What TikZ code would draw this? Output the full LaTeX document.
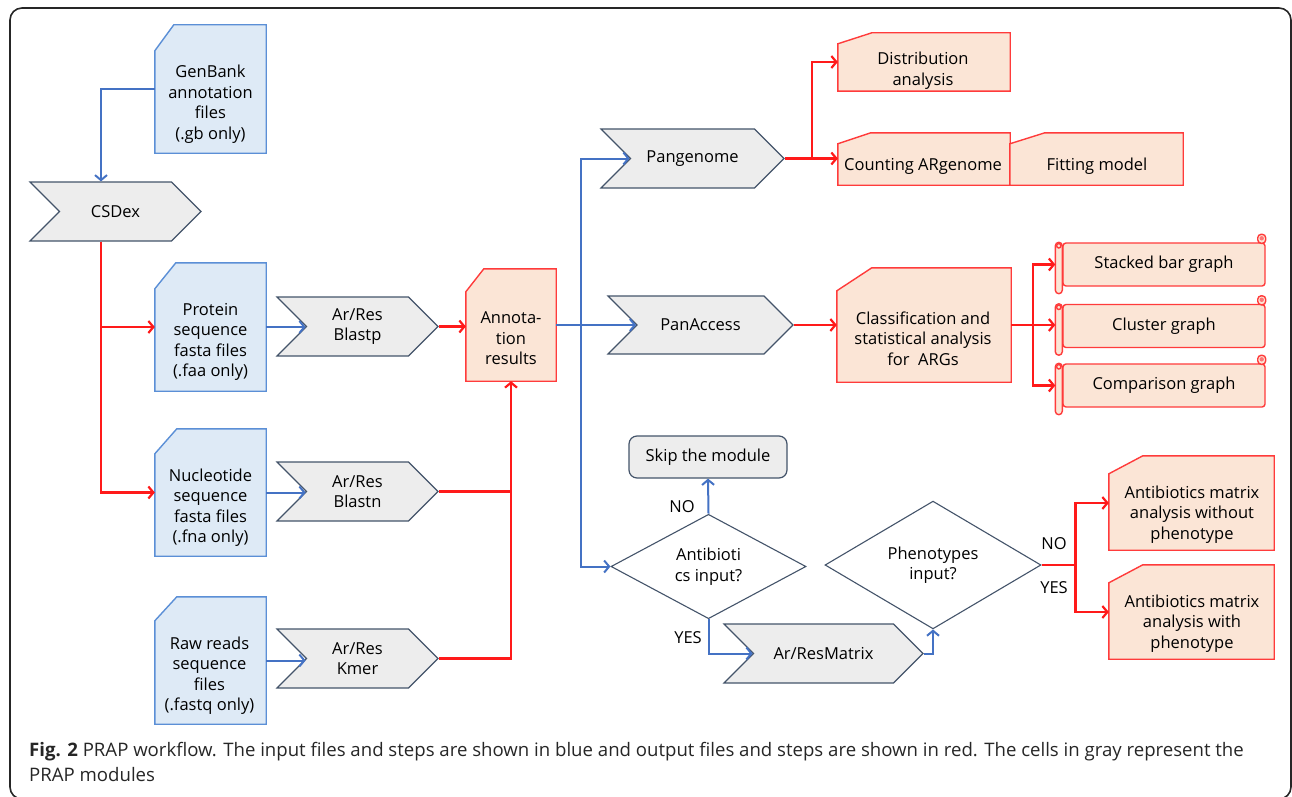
\documentclass[tikz,border=0pt]{standalone}
\usepackage{fontspec}
\setmainfont{Open Sans}
\usetikzlibrary{arrows.meta,shapes.symbols,shapes.geometric}
\definecolor{inblue}{HTML}{4472C4}
\definecolor{inbluefill}{HTML}{DEEAF6}
\definecolor{docblue}{HTML}{5B8FD6}
\definecolor{outred}{HTML}{FF1A1A}
\definecolor{outredfill}{HTML}{FBE5D6}
\definecolor{docred}{HTML}{FF3B3B}
\definecolor{modgray}{HTML}{EDEDED}
\definecolor{modline}{HTML}{44546A}
\tikzstyle{base}=[font=\fontsize{16.5}{20.5}\selectfont, align=center, inner sep=0pt]
\tikzstyle{docbox}=[rectangle, draw=none, inner sep=0pt]
\tikzstyle{indocedge}=[draw=docblue, fill=inbluefill, line width=1.4pt]
\tikzstyle{outdocedge}=[draw=docred, fill=outredfill, line width=1.4pt]
\tikzstyle{module}=[base, signal, signal to=east, signal from=west, draw=modline, fill=modgray, line width=1.2pt, minimum height=59pt]
\tikzstyle{decision}=[base, diamond, draw=modline, fill=white, line width=1.1pt]
\tikzstyle{scrollbody}=[base, rectangle, rounded corners=3pt, draw=docred, fill=outredfill, line width=1.4pt, minimum width=202pt, minimum height=43pt]
\tikzstyle{scrolledge}=[draw=docred, fill=outredfill, line width=1.4pt]
\tikzstyle{blueflow}=[draw=inblue, line width=2pt, -{Straight Barb[length=5pt,width=12pt]}]
\tikzstyle{redflow}=[draw=outred, line width=2.2pt, -{Straight Barb[length=5pt,width=12pt]}]
\tikzstyle{redline}=[draw=outred, line width=2.2pt]
\tikzstyle{answer}=[base]
\begin{document}
\begin{tikzpicture}[x=1pt,y=-1pt]
\useasboundingbox (0,0) rectangle (1292,797);
\draw[line width=1.6pt, black!85, rounded corners=12pt] (10,8) rectangle (1291,799);

% file outlines
\node[docbox, minimum width=111pt, minimum height=128pt] (genbank) at (210.5,89) {};
\node[docbox, minimum width=111pt, minimum height=128pt] (protein) at (210.5,327) {};
\node[docbox, minimum width=111pt, minimum height=127pt] (nucleotide) at (210.5,492.5) {};
\node[docbox, minimum width=111pt, minimum height=127pt] (rawreads) at (210.5,660.5) {};
\node[docbox, minimum width=90pt, minimum height=112pt] (annotation) at (511,325) {};
\node[docbox, minimum width=172pt, minimum height=58pt] (distribution) at (924,62) {};
\node[docbox, minimum width=172pt, minimum height=52pt] (counting) at (924,159) {};
\node[docbox, minimum width=173pt, minimum height=52pt] (fitting) at (1096.5,159) {};
\node[docbox, minimum width=174pt, minimum height=114pt] (classification) at (924,325) {};
\node[docbox, minimum width=165pt, minimum height=94pt] (nopheno) at (1191.5,503) {};
\node[docbox, minimum width=165pt, minimum height=94pt] (withpheno) at (1191.5,612) {};
\foreach \nm/\sx/\sy in {genbank/19/26, protein/21/26, nucleotide/22/25, rawreads/22/24}
  \draw[indocedge] ([yshift=-\sy pt]\nm.north west) -- ([xshift=\sx pt]\nm.north west) -- (\nm.north east) -- (\nm.south east) -- (\nm.south west) -- cycle;
\foreach \nm/\sx/\sy in {annotation/18/23, distribution/34/11, counting/33/11, fitting/35/11, classification/35/23, nopheno/34/18, withpheno/34/18}
  \draw[outdocedge] ([yshift=-\sy pt]\nm.north west) -- ([xshift=\sx pt]\nm.north west) -- (\nm.north east) -- (\nm.south east) -- (\nm.south west) -- cycle;

% file texts
\node[base] (genbank text) at (210.5,104) {GenBank\\annotation\\files\\(.gb only)};
\node[base] (protein text) at (210.5,342) {Protein\\sequence\\fasta files\\(.faa only)};
\node[base] (nucleotide text) at (210.5,507.5) {Nucleotide\\sequence\\fasta files\\(.fna only)};
\node[base] (rawreads text) at (209.5,675.5) {Raw reads\\sequence\\files\\(.fastq only)};
\node[base] (annotation text) at (511,338.5) {Annota-\\tion\\results};
\node[base] (distribution text) at (923,70.5) {Distribution\\analysis};
\node[base] (counting text) at (923,166.5) {Counting ARgenome};
\node[base] (fitting text) at (1097,166.5) {Fitting model};
\node[base] (classification text) at (923,338.5) {Classification and\\statistical analysis\\for\ \ ARGs};
\node[base] (nopheno text) at (1192,514.5) {Antibiotics matrix\\analysis without\\phenotype};
\node[base] (withpheno text) at (1192,623.5) {Antibiotics matrix\\analysis with\\phenotype};

% modules
\node[module, minimum width=171pt] (csdex) at (115.5,211.5) {CSDex};
\node[module, minimum width=161pt] (blastp) at (357.5,326.5) {Ar/Res\\Blastp};
\node[module, minimum width=161pt] (blastn) at (357.5,491.5) {Ar/Res\\Blastn};
\node[module, minimum width=161pt] (kmer) at (357.5,658.5) {Ar/Res\\Kmer};
\node[module, minimum width=183pt] (pangenome) at (692.5,158.5) {Pangenome};
\node[module, minimum width=185pt, minimum height=58pt] (panaccess) at (700.5,325) {PanAccess};
\node[module, minimum width=199pt] (resmatrix) at (823.5,653.5) {Ar/ResMatrix};

% graphs
\foreach \nm/\yy/\txt in {stacked/264.5/Stacked bar graph, cluster/326/Cluster graph, comparison/385.5/Comparison graph}{
  \node[scrollbody] (\nm) at (1164,\yy) {\txt};
  \draw[scrolledge, rounded corners=3.5pt] ([xshift=-7pt]\nm.north west) rectangle ([yshift=-7pt]\nm.south west);
  \draw[scrolledge] ([xshift=-3.5pt,yshift=-3.5pt]\nm.north west) circle (2.2pt);
  \draw[scrolledge, rounded corners=3.5pt] ([xshift=-8pt,yshift=8pt]\nm.north east) rectangle ([yshift=-1pt]\nm.north east);
  \fill[docred!70] ([xshift=-4pt,yshift=4pt]\nm.north east) circle (2.2pt);
}

% decisions
\node[decision, minimum width=195pt, minimum height=91pt] (antibiotics) at (708.5,566.5) {Antibioti\\cs input?};
\node[decision, minimum width=216pt, minimum height=94pt] (phenotypes) at (933,565) {Phenotypes\\input?};
\node[base, rectangle, rounded corners=8pt, draw=modline, fill=modgray, line width=1.2pt, minimum width=158pt, minimum height=42pt] (skip) at (708,457) {Skip the module};

% input flow
\draw[blueflow] (genbank.west) -| ([xshift=-14.5pt]csdex.north);
\draw[redflow] ([xshift=-14.5pt]csdex.south) |- (protein.west);
\draw[redflow] ([xshift=-14.5pt]csdex.south) |- (nucleotide.west);
\draw[blueflow] (protein.east) -- (protein.east -| blastp.west);
\draw[blueflow] (nucleotide.east) -- (nucleotide.east -| blastn.west);
\draw[blueflow] (rawreads.east) -- (rawreads.east -| kmer.west);
\draw[redflow] (blastp.east) -- (blastp.east -| annotation.west);
\draw[redline] (blastn.east) -- (blastn.east -| annotation.south);
\draw[redflow] (kmer.east) -| (annotation.south);

% analysis flow
\coordinate (hub) at ([xshift=25pt]annotation.east);
\draw[blueflow] (annotation.east) -- (annotation.east -| panaccess.west);
\draw[blueflow] (hub) |- (pangenome.west);
\draw[blueflow] (hub) |- (antibiotics.west);
\coordinate (pgsplit) at ([xshift=27pt]pangenome.east);
\draw[redflow] (pangenome.east) -- (pangenome.east -| counting.west);
\draw[redflow] (pgsplit) |- (distribution.west);
\draw[redflow] (panaccess.east) -- (classification.west);
\coordinate (clsplit) at ([xshift=22pt]classification.east);
\draw[redflow] (classification.east) -- ([xshift=-7pt]classification.east -| stacked.west);
\draw[redflow] (clsplit) |- ([xshift=-7pt]stacked.west);
\draw[redflow] (clsplit) |- ([xshift=-7pt]comparison.west);

% matrix flow
\draw[blueflow] (antibiotics.north) -- (skip.south);
\node[answer] (no1) at (682,507) {NO};
\draw[blueflow] (antibiotics.south) |- (resmatrix.west);
\node[answer] (yes1) at (688,638) {YES};
\draw[blueflow] (resmatrix.east) -| (phenotypes.south);
\coordinate (phsplit) at ([xshift=34pt]phenotypes.east);
\draw[redline] (phenotypes.east) -- (phsplit);
\draw[redflow] (phsplit) |- (nopheno.west);
\draw[redflow] (phsplit) |- (withpheno.west);
\node[answer] (no2) at (1054,544) {NO};
\node[answer] (yes2) at (1054,588) {YES};

% caption
\node[anchor=north west, align=left, inner sep=0pt, text=black!85, font=\fontsize{18.6}{25}\selectfont] (caption) at (29,742) {\textbf{Fig. 2} PRAP workflow. The input files and steps are shown in blue and output files and steps are shown in red. The cells in gray represent the\\PRAP modules};
\end{tikzpicture}
\end{document}
